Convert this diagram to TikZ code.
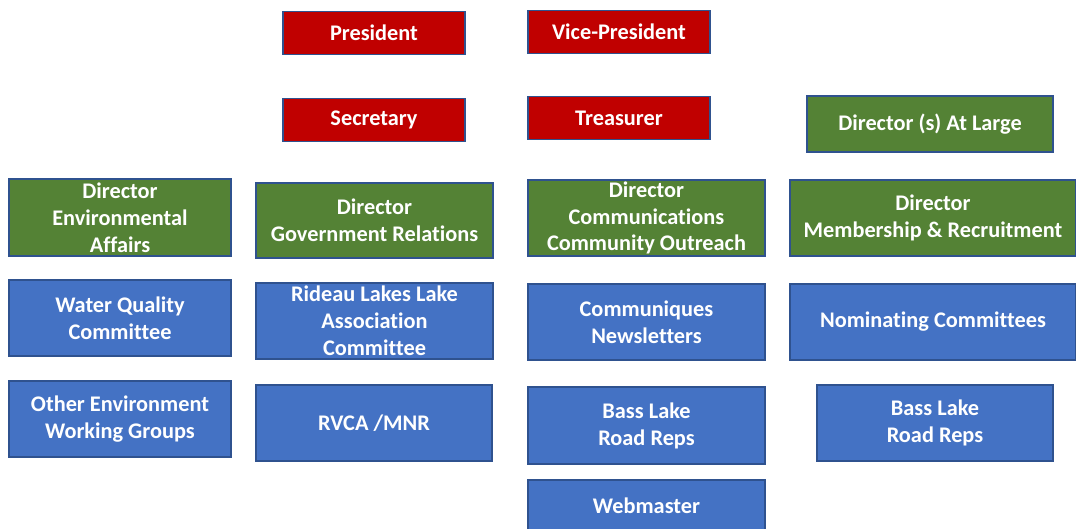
\documentclass[tikz,border=0pt]{standalone}
\usepackage{fontspec}
\setmainfont{Carlito}[Ligatures=NoCommon]
\usepackage{tikz}

\definecolor{boardred}{HTML}{C00000}
\definecolor{boardgreen}{HTML}{548235}
\definecolor{boardblue}{HTML}{4472C4}
\definecolor{boardedge}{HTML}{2F528F}

\tikzset{
  box/.style={draw=boardedge, line width=0.8pt, rectangle, inner sep=0pt, align=center,
    text=white, font=\fontsize{12.7}{15.3}\selectfont\bfseries},
  officer/.style={box, fill=boardred, minimum width=3.64cm, minimum height=0.86cm},
  director/.style={box, fill=boardgreen, minimum width=4.74cm, minimum height=1.52cm},
  group/.style={box, fill=boardblue, minimum width=4.74cm, minimum height=1.52cm},
}

\begin{document}
\begin{tikzpicture}[x=0.02cm, y=-0.02cm]
\useasboundingbox (0,0) rectangle (1076,528);

% officers
\node[officer] (pres) at (374,33) {President};
\node[officer] (vp) at (619,32) {Vice-President};
\node[officer] (sec) at (374,120) {Secretary};
\node[officer] (treas) at (619,118) {Treasurer};
\node[director, minimum width=4.92cm, minimum height=1.12cm] (large) at (930,124) {Director (s) At Large};

% directors
\node[director, minimum width=4.44cm, minimum height=1.54cm] (env) at (120,217.5) {Director\\Environmental\\Affairs};
\node[director, minimum height=1.5cm] (gov) at (374.5,220.5) {Director\\Government Relations};
\node[director] (comm) at (646.5,218) {Director\\Communications\\Community Outreach};
\node[director, minimum width=5.72cm] (memb) at (933,218) {Director\\Membership \& Recruitment};

% committees and groups
\node[group, minimum width=4.44cm] (water) at (120,318) {Water Quality\\Committee};
\node[group] (rideau) at (374.5,321) {Rideau Lakes Lake\\Association\\Committee};
\node[group] (news) at (646.5,322) {Communiques\\Newsletters};
\node[group, minimum width=5.72cm] (nomin) at (933,322) {Nominating Committees};

\node[group, minimum width=4.44cm] (otherenv) at (120,419) {Other Environment\\Working Groups};
\node[group, minimum width=4.72cm] (rvca) at (374,423) {RVCA /MNR};
\node[group, minimum height=1.54cm] (bassa) at (646.5,425.5) {Bass Lake\\Road Reps};
\node[group, minimum width=4.72cm] (bassb) at (935,423) {Bass Lake\\Road Reps};

% runs off the bottom edge
\node[group] (web) at (646.5,518) {\raisebox{13.6pt}{Webmaster}};

\end{tikzpicture}
\end{document}
